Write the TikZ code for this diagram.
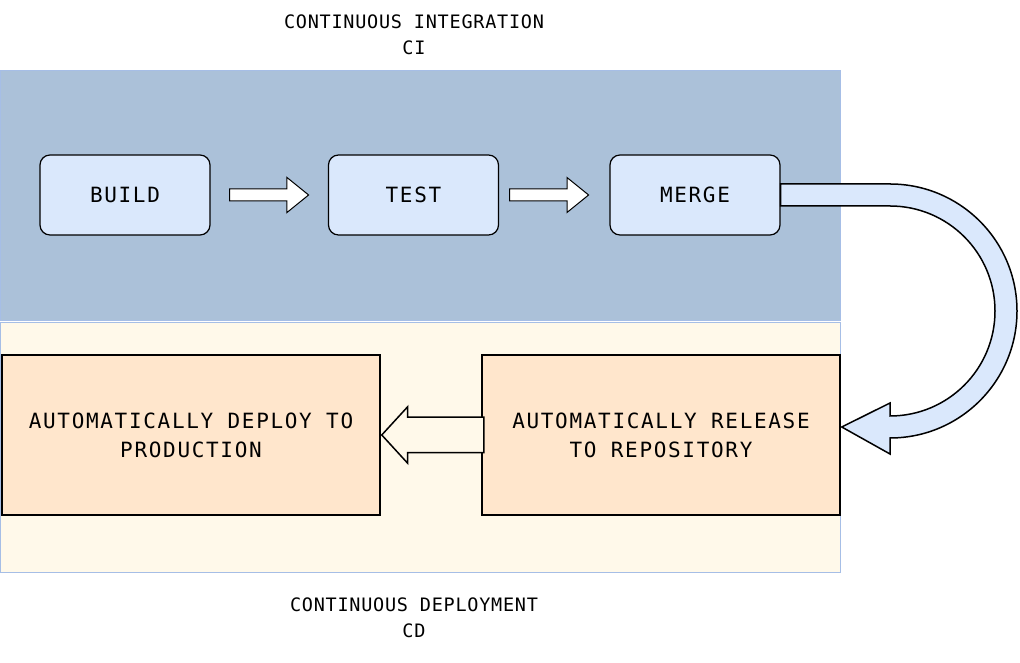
\documentclass[tikz,border=0pt]{standalone}
\usepackage{fontspec}
\usepackage{tikz}
\usetikzlibrary{shapes.arrows,calc}
\newfontfamily\boxfont[LetterSpace=8]{DejaVu Sans Mono}
\newfontfamily\titlefont[LetterSpace=4]{DejaVu Sans Mono}
\definecolor{cifill}{RGB}{171,193,217}
\definecolor{cdfill}{RGB}{255,249,234}
\definecolor{bandline}{RGB}{166,190,230}
\definecolor{stepfill}{RGB}{218,232,252}
\definecolor{releasefill}{RGB}{255,230,204}

\begin{document}
\begin{tikzpicture}[x=1pt,y=1pt,
	band/.style={draw=bandline, line width=0.8pt},
	cibox/.style={draw, fill=stepfill, rounded corners=10pt, line width=1.2pt,
		minimum width=170pt, minimum height=80pt,
		font=\boxfont\fontsize{21}{29}\selectfont},
	cdbox/.style={draw, fill=releasefill, line width=1.5pt, minimum height=160pt,
		align=center, font=\boxfont\fontsize{21}{29}\selectfont},
	smallarrow/.style={single arrow, draw, fill=white, line width=1pt,
		inner sep=5.5pt, minimum height=79pt, anchor=tip,
		single arrow head extend=11.5pt, single arrow tip angle=78},
	bigarrow/.style={single arrow, draw, fill=cdfill, line width=1.5pt,
		inner sep=17pt, minimum height=102pt, anchor=tip,
		single arrow head extend=10.5pt, single arrow tip angle=95},
	title/.style={align=center, font=\titlefont\fontsize{18.5}{26}\selectfont}]
		\useasboundingbox (0,0) rectangle (1020,663);
		% the two stages
		\draw [band, fill=cifill] (0,343) rectangle (840,593);
		\draw [band, fill=cdfill] (0,91) rectangle (840,341);
		\node[title] (cititle) at (414,628) {CONTINUOUS INTEGRATION\\CI};
		\node[title] (cdtitle) at (414,45) {CONTINUOUS DEPLOYMENT\\CD};
		% CI steps
		\node[cibox] (build) at (125,468) {BUILD};
		\node[cibox] (test) at (413.5,468) {TEST};
		\node[cibox] (merge) at (695,468) {MERGE};
		\node[smallarrow] (buildtest) at ($(test.west)+(-18.5,0)$) {};
		\node[smallarrow] (testmerge) at ($(merge.west)+(-20,0)$) {};
		% CD steps
		\node[cdbox, minimum width=378pt] (deploy) at (191,228) {AUTOMATICALLY DEPLOY TO\\PRODUCTION};
		\node[cdbox, minimum width=358pt] (release) at (661,228) {AUTOMATICALLY RELEASE\\TO REPOSITORY};
		\node[bigarrow, shape border rotate=180] (releasedeploy) at (deploy.east) {};
		% merge -> release
		\draw [fill=stepfill, line width=1.5pt] ($(merge.east)+(0,11)$) -- (890,479)
			arc[start angle=90, end angle=-90, radius=127] -- (890,209)
			-- ($(release.east)+(1,8)$) -- (890,260) -- (890,247)
			arc[start angle=-90, end angle=90, radius=105] -- ($(merge.east)+(0,-11)$) -- cycle;
\end{tikzpicture}
\end{document}
